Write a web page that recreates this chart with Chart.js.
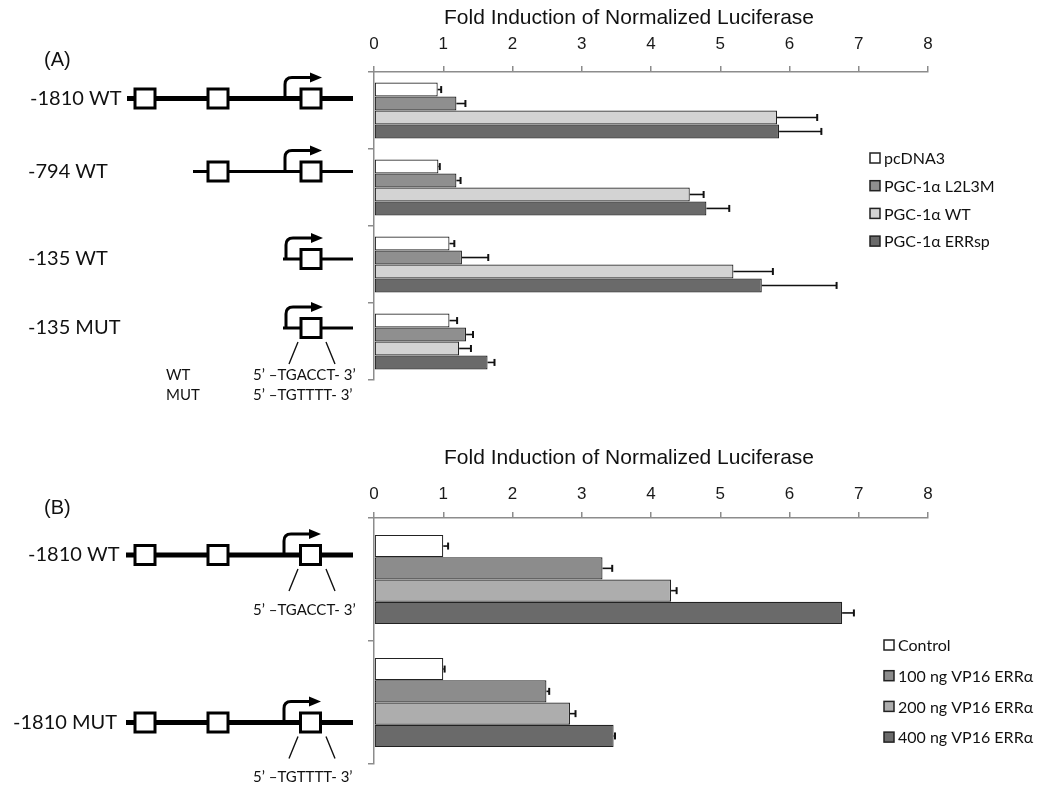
<!DOCTYPE html>
<html>
<head>
<meta charset="utf-8">
<script src="https://cdn.jsdelivr.net/npm/chart.js@4.4.1/dist/chart.umd.min.js"></script>
<style>
  body { margin: 0; background: #fff; }
  .panel { position: absolute; left: 0; width: 1042px; }
  #panelA { top: 0; height: 400px; }
  #panelB { top: 400px; height: 386px; }
</style>
</head>
<body>
<div class="panel" id="panelA"><canvas id="chartA"></canvas></div>
<div class="panel" id="panelB"><canvas id="chartB"></canvas></div>
<script>
// Panel A: deletion constructs + PGC-1a mutants
const constructsA = ['-1810 WT', '-794 WT', '-135 WT', '-135 MUT'];
const pcdna3     = [0.92, 0.93, 1.09, 1.09];
const pcdna3Err  = [0.05, 0.02, 0.07, 0.11];
const l2l3m      = [1.19, 1.19, 1.27, 1.33];
const l2l3mErr   = [0.13, 0.06, 0.38, 0.10];
const pgcWT      = [5.82, 4.56, 5.19, 1.23];
const pgcWTErr   = [0.58, 0.20, 0.57, 0.17];
const errsp      = [5.85, 4.80, 5.60, 1.64];
const errspErr   = [0.61, 0.33, 1.08, 0.10];

// Panel B: VP16 ERRa dose
const constructsB = ['-1810 WT', '-1810 MUT'];
const control    = [1.00, 1.00];
const controlErr = [0.07, 0.02];
const vp100      = [3.30, 2.49];
const vp100Err   = [0.14, 0.04];
const vp200      = [4.29, 2.83];
const vp200Err   = [0.08, 0.08];
const vp400      = [6.76, 3.46];
const vp400Err   = [0.17, 0.02];

// x axis: 0..8 step 1
const foldMin = 0, foldMax = 8, foldStep = 1;
const axisTitle = 'Fold Induction of Normalized Luciferase';

const SANS = '"Liberation Sans", Arial, sans-serif';
const HUMAN = 'Lato, "Open Sans", sans-serif';
const AXIS_GREY = '#8c8c8c';

/* --- drawing helpers for the promoter cartoons --- */
function drawBox(ctx, cx, cy) {
  ctx.fillStyle = '#fff';
  ctx.fillRect(cx - 10, cy - 9.5, 20, 19);
  ctx.strokeStyle = '#000';
  ctx.lineWidth = 3;
  ctx.strokeRect(cx - 10, cy - 9.5, 20, 19);
}

function drawTss(ctx, sx, y) {
  ctx.strokeStyle = '#000';
  ctx.fillStyle = '#000';
  ctx.lineWidth = 3;
  ctx.beginPath();
  ctx.moveTo(sx, y);
  ctx.lineTo(sx, y - 14);
  ctx.quadraticCurveTo(sx, y - 21, sx + 7, y - 21);
  ctx.lineTo(sx + 26, y - 21);
  ctx.stroke();
  ctx.beginPath();
  ctx.moveTo(sx + 25, y - 26);
  ctx.lineTo(sx + 37, y - 21);
  ctx.lineTo(sx + 25, y - 16);
  ctx.closePath();
  ctx.fill();
}

const figurePlugin = {
  id: 'figure',
  afterDatasetsDraw(chart, args, opts) {
    const ctx = chart.ctx;
    const x = chart.scales.x;

    // error bars (value -> value + err, with end cap)
    ctx.save();
    ctx.strokeStyle = '#111';
    chart.data.datasets.forEach((ds, i) => {
      const meta = chart.getDatasetMeta(i);
      meta.data.forEach((bar, j) => {
        const x0 = x.getPixelForValue(ds.data[j]);
        const x1 = x.getPixelForValue(ds.data[j] + ds.errors[j]);
        ctx.lineWidth = 1.6;
        ctx.beginPath();
        ctx.moveTo(x0, bar.y);
        ctx.lineTo(x1, bar.y);
        ctx.stroke();
        ctx.lineWidth = 2;
        ctx.beginPath();
        ctx.moveTo(x1, bar.y - 3.5);
        ctx.lineTo(x1, bar.y + 3.5);
        ctx.stroke();
      });
    });
    ctx.restore();
  },
  afterDraw(chart, args, opts) {
    const ctx = chart.ctx;
    const y = chart.scales.y;
    ctx.save();

    // panel letter + axis title
    ctx.fillStyle = '#111';
    ctx.textBaseline = 'middle';
    ctx.font = '20px ' + SANS;
    ctx.textAlign = 'left';
    ctx.fillText(opts.panel, 44, opts.panelY);
    ctx.font = '21px ' + SANS;
    ctx.textAlign = 'center';
    ctx.fillText(axisTitle, 629, opts.titleY);

    // legend
    ctx.textAlign = 'left';
    ctx.font = '16px ' + HUMAN;
    chart.data.datasets.forEach((ds, i) => {
      const ly = opts.legend.y + i * opts.legend.step;
      ctx.fillStyle = ds.backgroundColor;
      ctx.fillRect(opts.legend.x, ly - 5, 10, 10);
      ctx.strokeStyle = '#222';
      ctx.lineWidth = 1.5;
      ctx.strokeRect(opts.legend.x, ly - 5, 10, 10);
      ctx.fillStyle = '#111';
      ctx.fillText(ds.label, opts.legend.x + 14, ly + 1);
    });

    // promoter cartoons, anchored to each category row
    opts.rows.forEach((r, i) => {
      const cy = y.getPixelForValue(i) + r.dy;
      ctx.fillStyle = '#111';
      ctx.font = '20px ' + HUMAN;
      ctx.textAlign = 'left';
      ctx.fillText(chart.data.labels[i], r.labelX, cy);

      ctx.strokeStyle = '#000';
      ctx.lineWidth = r.lineW;
      ctx.beginPath();
      ctx.moveTo(r.from, cy);
      ctx.lineTo(353, cy);
      ctx.stroke();
      drawTss(ctx, r.tss, cy);
      r.boxes.forEach(bx => drawBox(ctx, bx, cy));

      if (r.seq) {
        ctx.strokeStyle = '#111';
        ctx.lineWidth = 1.4;
        ctx.beginPath();
        ctx.moveTo(298, cy + 14);
        ctx.lineTo(289, cy + 36);
        ctx.moveTo(326, cy + 14);
        ctx.lineTo(335, cy + 36);
        ctx.stroke();
        ctx.fillStyle = '#111';
        ctx.font = '15px ' + HUMAN;
        r.seq.forEach((s, k) => {
          const ty = cy + r.seqDy + k * 20;
          if (s.tag) ctx.fillText(s.tag, 166, ty);
          ctx.fillText(s.text, 253, ty);
        });
      }
    });
    ctx.restore();
  }
};

function barDataset(label, data, errors, color) {
  return {
    label, data, errors,
    backgroundColor: color,
    borderColor: '#222',
    borderWidth: 1.2,
    borderSkipped: false,
    categoryPercentage: 0.725,
    barPercentage: 1.0
  };
}

function makeChart(canvasId, labels, datasets, cfg) {
  return new Chart(document.getElementById(canvasId), {
    type: 'bar',
    data: { labels, datasets },
    options: {
      indexAxis: 'y',
      responsive: true,
      maintainAspectRatio: false,
      animation: false,
      layout: { padding: { left: 0, top: 0, right: 1042 - 928, bottom: cfg.bottomPad } },
      plugins: {
        legend: { display: false },
        tooltip: { enabled: false },
        figure: cfg.figure
      },
      scales: {
        x: {
          position: 'top',
          min: foldMin, max: foldMax,
          ticks: { stepSize: foldStep, color: '#1a1a1a', font: { family: SANS, size: 17 }, padding: cfg.tickPad },
          grid: { drawOnChartArea: false, color: AXIS_GREY, lineWidth: 1.5, tickLength: 6 },
          border: { color: AXIS_GREY, width: 1.5 },
          afterFit: s => { s.height = cfg.top; }
        },
        y: {
          ticks: { display: false },
          grid: { drawOnChartArea: false, color: AXIS_GREY, lineWidth: 1.5, tickLength: 6 },
          border: { color: AXIS_GREY, width: 1.5 },
          afterFit: s => { s.width = 374; }
        }
      }
    },
    plugins: [figurePlugin]
  });
}

makeChart('chartA', constructsA, [
  barDataset('pcDNA3', pcdna3, pcdna3Err, '#ffffff'),
  barDataset('PGC-1\u03b1 L2L3M', l2l3m, l2l3mErr, '#8f8f8f'),
  barDataset('PGC-1\u03b1 WT', pgcWT, pgcWTErr, '#d3d3d3'),
  barDataset('PGC-1\u03b1 ERRsp', errsp, errspErr, '#6a6a6a')
], {
  top: 72, bottomPad: 20, tickPad: 11,
  figure: {
    panel: '(A)', panelY: 60, titleY: 18,
    legend: { x: 870, y: 158, step: 27.7 },
    rows: [
      { dy: -12, labelX: 30, from: 127, lineW: 5, boxes: [145, 218, 311], tss: 285 },
      { dy: -16, labelX: 28, from: 193, lineW: 3, boxes: [218, 311], tss: 285 },
      { dy: -5.5, labelX: 28, from: 283, lineW: 3, boxes: [311], tss: 286 },
      { dy: -13.5, labelX: 28, from: 283, lineW: 3, boxes: [311], tss: 286, seqDy: 47,
        seq: [ { tag: 'WT', text: '5\u2019 \u2013TGACCT- 3\u2019' }, { tag: 'MUT', text: '5\u2019 \u2013TGTTTT- 3\u2019' } ] }
    ]
  }
});

makeChart('chartB', constructsB, [
  barDataset('Control', control, controlErr, '#ffffff'),
  barDataset('100 ng VP16 ERR\u03b1', vp100, vp100Err, '#8c8c8c'),
  barDataset('200 ng VP16 ERR\u03b1', vp200, vp200Err, '#adadad'),
  barDataset('400 ng VP16 ERR\u03b1', vp400, vp400Err, '#6a6a6a')
], {
  top: 118, bottomPad: 22, tickPad: 7,
  figure: {
    panel: '(B)', panelY: 108, titleY: 58,
    legend: { x: 884, y: 245, step: 30.7 },
    rows: [
      { dy: -24.5, labelX: 28, from: 126, lineW: 5, boxes: [145, 218, 310.5], tss: 284, seqDy: 55,
        seq: [ { text: '5\u2019 \u2013TGACCT- 3\u2019' } ] },
      { dy: 20, labelX: 13, from: 126, lineW: 5, boxes: [145, 218, 310.5], tss: 284, seqDy: 55,
        seq: [ { text: '5\u2019 \u2013TGTTTT- 3\u2019' } ] }
    ]
  }
});
</script>
</body>
</html>
